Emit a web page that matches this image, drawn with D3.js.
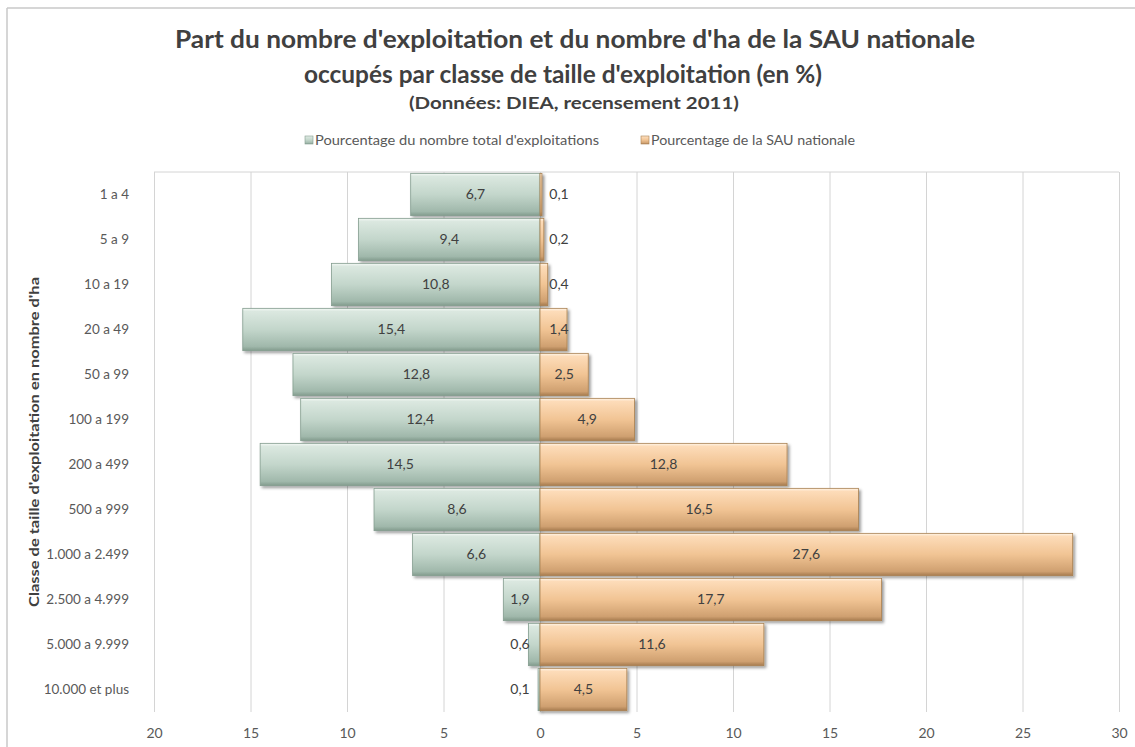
<!DOCTYPE html>
<html>
<head>
<meta charset="utf-8">
<script src="https://cdn.jsdelivr.net/npm/d3@7"></script>
<style>
  body { margin: 0; background: #fff; }
  svg text { font-family: Lato, "Open Sans", sans-serif; }
</style>
</head>
<body>
<div id="chart"></div>
<script>
var totWidth = 1135;
var totHeight = 747;

//-- Data
var categories = ["1 a 4", "5 a 9", "10 a 19", "20 a 49", "50 a 99", "100 a 199", "200 a 499",
                  "500 a 999", "1.000 a 2.499", "2.500 a 4.999", "5.000 a 9.999", "10.000 et plus"];
var pctExploitations = [6.7, 9.4, 10.8, 15.4, 12.8, 12.4, 14.5, 8.6, 6.6, 1.9, 0.6, 0.1];
var pctSAU = [0.1, 0.2, 0.4, 1.4, 2.5, 4.9, 12.8, 16.5, 27.6, 17.7, 11.6, 4.5];
var xTicks = [-20, -15, -10, -5, 0, 5, 10, 15, 20, 25, 30];
var seriesNames = ["Pourcentage du nombre total d'exploitations", "Pourcentage de la SAU nationale"];

//-- Plot area
var plot = {left: 154, right: 1119, top: 172, bottom: 712};

var svg = d3.select("#chart")
  .append("svg")
    .attr("width", totWidth)
    .attr("height", totHeight);

//-- Gradients & shadow
var defs = svg.append("defs");
var grads = [
  {id: "gGreen", stops: [["0%", "#f6faf7"], ["7%", "#dbe8e0"], ["50%", "#c3d6cb"], ["90%", "#a0b8ab"], ["100%", "#829b8d"]]},
  {id: "gOrange", stops: [["0%", "#fff6ea"], ["7%", "#fddcb9"], ["50%", "#f1c494"], ["90%", "#cfa070"], ["100%", "#a67b4f"]]}
];
grads.forEach(function(g) {
  var lg = defs.append("linearGradient").attr("id", g.id)
    .attr("x1", 0).attr("y1", 0).attr("x2", 0).attr("y2", 1);
  g.stops.forEach(function(s) {
    lg.append("stop").attr("offset", s[0]).attr("stop-color", s[1]);
  });
});
defs.append("filter").attr("id", "shadow")
  .attr("x", "-10%").attr("y", "-20%").attr("width", "130%").attr("height", "150%")
  .append("feDropShadow")
    .attr("dx", 2).attr("dy", 2).attr("stdDeviation", 1.6)
    .attr("flood-color", "#000").attr("flood-opacity", 0.4);

//-- Chart frame
svg.append("line").attr("x1", 7).attr("x2", totWidth).attr("y1", 8).attr("y2", 8)
  .attr("stroke", "#c8c8c8").attr("stroke-width", 1.5);
svg.append("line").attr("x1", 7).attr("x2", 7).attr("y1", 8).attr("y2", totHeight)
  .attr("stroke", "#c8c8c8").attr("stroke-width", 1.5);

//-- Scales
var x = d3.scaleLinear()
  .domain([-20, 30])
  .range([plot.left, plot.right]);

var y = d3.scaleBand()
  .domain(categories)
  .range([plot.top, plot.bottom])
  .paddingInner(0.06)
  .paddingOuter(0.03);

//-- Gridlines
var xAxisGrid = d3.axisBottom(x)
  .tickValues(xTicks)
  .tickSize(-(plot.bottom - plot.top))
  .tickFormat("");
var grid = svg.append("g")
  .attr("transform", "translate(0," + plot.bottom + ")")
  .call(xAxisGrid);
grid.select(".domain").remove();
grid.selectAll("line").attr("stroke", "#d4d4d4");

svg.append("line")
  .attr("x1", plot.left).attr("x2", plot.right)
  .attr("y1", plot.top).attr("y2", plot.top)
  .attr("stroke", "#d4d4d4");

//-- X axis labels
var xAxis = d3.axisBottom(x)
  .tickValues(xTicks)
  .tickSize(0)
  .tickPadding(16)
  .tickFormat(function(d) { return Math.abs(d); });
var xg = svg.append("g")
  .attr("transform", "translate(0," + plot.bottom + ")")
  .call(xAxis);
xg.select(".domain").remove();
xg.selectAll("text").attr("font-size", 14).attr("fill", "#595959")
  .style("font-family", "Lato, sans-serif");

//-- Y axis labels
var yAxis = d3.axisLeft(y).tickSize(0).tickPadding(0);
var yg = svg.append("g")
  .attr("transform", "translate(129,0)")
  .call(yAxis);
yg.select(".domain").remove();
yg.selectAll("text").attr("font-size", 13.5).attr("fill", "#595959")
  .style("font-family", "Lato, sans-serif");

//-- Bars
var rows = categories.map(function(c, i) {
  return {cat: c, left: pctExploitations[i], right: pctSAU[i]};
});

svg.append("g").attr("filter", "url(#shadow)")
  .selectAll("rect.left")
  .data(rows)
  .enter().append("rect")
    .attr("x", function(d) { return x(-d.left); })
    .attr("y", function(d) { return y(d.cat); })
    .attr("width", function(d) { return x(0) - x(-d.left); })
    .attr("height", y.bandwidth())
    .attr("fill", "url(#gGreen)")
    .attr("stroke", "#849d8f")
    .attr("stroke-width", 0.8);

svg.append("g").attr("filter", "url(#shadow)")
  .selectAll("rect.right")
  .data(rows)
  .enter().append("rect")
    .attr("x", x(0))
    .attr("y", function(d) { return y(d.cat); })
    .attr("width", function(d) { return x(d.right) - x(0); })
    .attr("height", y.bandwidth())
    .attr("fill", "url(#gOrange)")
    .attr("stroke", "#a98050")
    .attr("stroke-width", 0.8);

//-- Value labels
var fmt = function(v) { return String(v).replace(".", ","); };
var halfLabel = 12;

svg.append("g").selectAll("text")
  .data(rows)
  .enter().append("text")
    .attr("x", function(d) { return Math.min((x(-d.left) + x(0)) / 2, x(0) - halfLabel - 8); })
    .attr("y", function(d) { return y(d.cat) + y.bandwidth() / 2; })
    .attr("dy", "0.35em")
    .attr("text-anchor", "middle")
    .attr("font-size", 14)
    .attr("fill", "#404040")
    .text(function(d) { return fmt(d.left); });

svg.append("g").selectAll("text")
  .data(rows)
  .enter().append("text")
    .attr("x", function(d) { return Math.max((x(d.right) + x(0)) / 2, x(0) + halfLabel + 7); })
    .attr("y", function(d) { return y(d.cat) + y.bandwidth() / 2; })
    .attr("dy", "0.35em")
    .attr("text-anchor", "middle")
    .attr("font-size", 14)
    .attr("fill", "#404040")
    .text(function(d) { return fmt(d.right); });

//-- Titles
svg.append("text")
  .attr("x", 575).attr("y", 48)
  .attr("text-anchor", "middle")
  .attr("font-size", 24).attr("font-weight", "bold").attr("fill", "#404040")
  .attr("textLength", 800).attr("lengthAdjust", "spacingAndGlyphs")
  .text("Part du nombre d'exploitation et du nombre d'ha de la SAU nationale");
svg.append("text")
  .attr("x", 563).attr("y", 83)
  .attr("text-anchor", "middle")
  .attr("font-size", 24).attr("font-weight", "bold").attr("fill", "#404040")
  .attr("textLength", 518).attr("lengthAdjust", "spacingAndGlyphs")
  .text("occupés par classe de taille d'exploitation (en %)");
svg.append("text")
  .attr("x", 574).attr("y", 109)
  .attr("text-anchor", "middle")
  .attr("font-size", 17).attr("font-weight", "bold").attr("fill", "#404040")
  .attr("textLength", 330).attr("lengthAdjust", "spacingAndGlyphs")
  .text("(Données:  DIEA, recensement 2011)");

//-- Axis title
svg.append("text")
  .attr("transform", "translate(39," + ((plot.top + plot.bottom) / 2) + ") rotate(-90)")
  .attr("text-anchor", "middle")
  .attr("font-size", 13).attr("font-weight", "bold").attr("fill", "#404040")
  .attr("textLength", 330).attr("lengthAdjust", "spacingAndGlyphs")
  .text("Classe de taille d'exploitation en nombre d'ha");

//-- Legend
var legend = [
  {name: seriesNames[0], fill: "url(#gGreen)", stroke: "#849d8f", x: 305, w: 284},
  {name: seriesNames[1], fill: "url(#gOrange)", stroke: "#a98050", x: 641, w: 204}
];
var lg = svg.append("g").selectAll("g")
  .data(legend)
  .enter().append("g")
    .attr("transform", function(d) { return "translate(" + d.x + ",140)"; });
lg.append("rect")
  .attr("x", 0).attr("y", -4).attr("width", 8).attr("height", 8)
  .attr("fill", function(d) { return d.fill; })
  .attr("stroke", function(d) { return d.stroke; })
  .attr("stroke-width", 0.6);
lg.append("text")
  .attr("x", 10).attr("dy", "0.35em")
  .attr("font-size", 13).attr("fill", "#595959")
  .attr("textLength", function(d) { return d.w; })
  .attr("lengthAdjust", "spacingAndGlyphs")
  .text(function(d) { return d.name; });
</script>
</body>
</html>
